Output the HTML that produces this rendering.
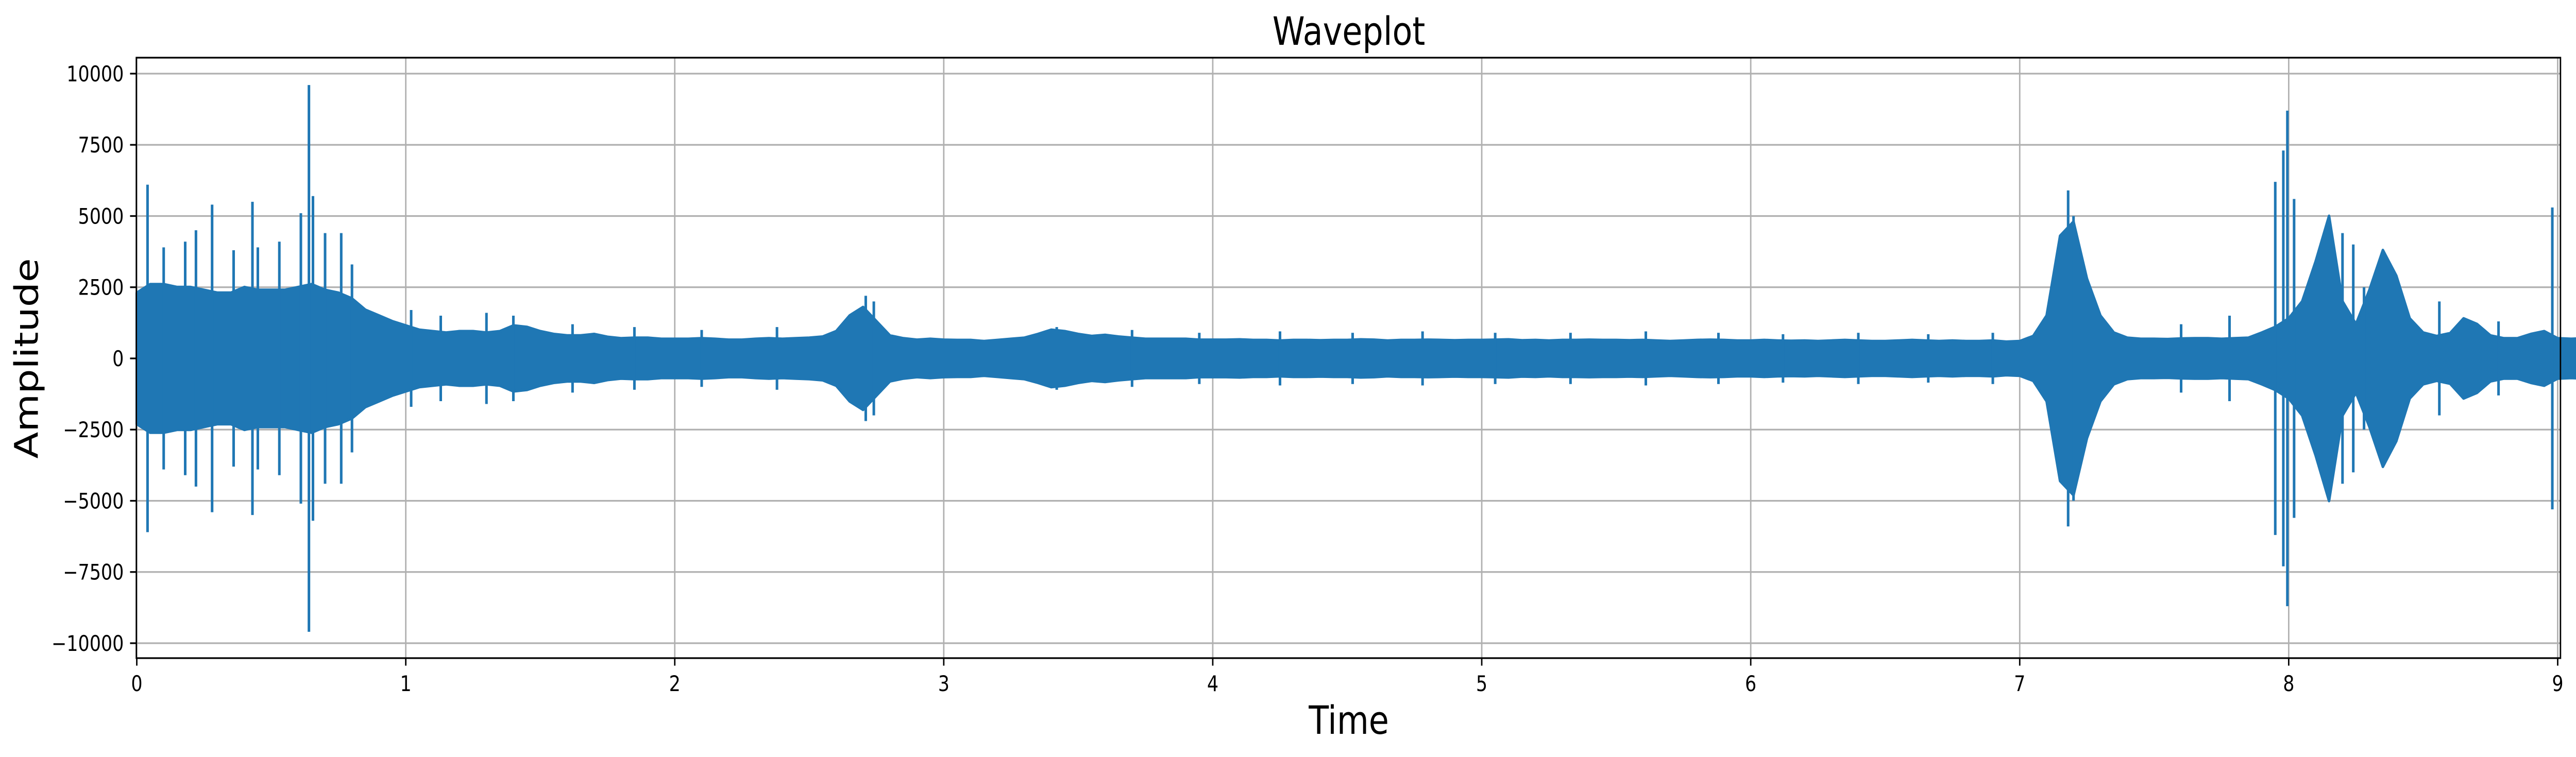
<!DOCTYPE html>
<html><head><meta charset="utf-8"><style>
html,body{margin:0;padding:0;background:#fff;width:100%;height:100%;overflow:hidden;}
svg{display:block;position:fixed;left:0;top:0;width:100vw;height:100vh;}
text{font-family:"DejaVu Sans","Liberation Sans",sans-serif;fill:#000;}
</style></head><body>
<svg id="chart" width="100%" height="100%" viewBox="0 0 5970 1470" preserveAspectRatio="none" xmlns="http://www.w3.org/2000/svg">
<rect x="0" y="0" width="5970" height="1470" fill="#fff"/>
<text x="3126" y="87" font-size="76" text-anchor="middle">Waveplot</text>
<text x="3126" y="1425" font-size="76" text-anchor="middle">Time</text>
<text transform="translate(88,696) rotate(-90)" x="0" y="0" font-size="76" text-anchor="middle">Amplitude</text>
<g id="grid"></g>
<g id="wave"></g>
<g id="axes"></g>
</svg>
<script>
// envelope of dense waveform body, sampled every 0.05 s from 0 to 9.0 s
const envStep = 0.05;
const envelope = [
2300,2600,2600,2500,2500,2400,2300,2300,2500,2400,
2400,2400,2500,2600,2400,2300,2100,1700,1500,1300,
1150,1000,950,900,950,950,900,950,1150,1100,
950,850,800,800,850,750,700,720,720,680,
680,680,700,680,650,650,680,700,680,700,
720,760,950,1500,1800,1300,800,700,650,680,
650,640,640,600,640,680,720,850,1000,950,
850,780,820,760,720,680,680,680,680,650,
650,650,660,640,640,620,640,640,630,640,
640,660,650,620,640,640,650,640,630,640,
640,650,660,630,640,620,640,640,650,640,
640,630,640,620,600,620,640,650,640,620,
620,640,620,610,620,600,620,640,620,600,
600,620,640,620,600,620,600,600,620,580,
600,780,1500,4300,4800,2800,1500,900,720,680,
680,670,690,700,700,680,700,720,900,1100,
1400,2000,3400,5000,2000,1200,2400,3800,2900,1400,
900,780,880,1400,1200,800,700,700,850,950,
700,680,700,850,1800,4200
];
// isolated spikes: time (s) and amplitude
const spikeTimes = [0.04,0.10,0.18,0.22,0.28,0.36,0.43,0.45,0.53,0.61,0.64,0.655,0.70,0.76,0.80,
  1.02,1.13,1.30,1.40,1.62,1.85,2.10,2.38,2.71,2.74,3.42,3.70,3.95,4.25,4.52,4.78,5.05,5.33,5.61,5.88,6.12,6.40,6.66,6.90,
  7.18,7.20,7.60,7.78,7.95,7.98,7.995,8.02,8.20,8.24,8.28,8.56,8.78,8.98];
const spikeAmps  = [6100,3900,4100,4500,5400,3800,5500,3900,4100,5100,9600,5700,4400,4400,3300,
  1700,1500,1600,1500,1200,1100,1000,1100,2200,2000,1100,1000,900,950,900,950,900,900,950,900,850,900,850,900,
  5900,5000,1200,1500,6200,7300,8700,5600,4400,4000,2500,2000,1300,5300];
const yTicks = [-10000,-7500,-5000,-2500,0,2500,5000,7500,10000];
const xTicks = [0,1,2,3,4,5,6,7,8,9];

const NS = "http://www.w3.org/2000/svg";
const L = 316, R = 5934, T = 112, B = 1278;
const X0 = 317, PXS = 623.4;
const Y0 = 696, PXU = 553 / 10000;
function xs(t){ return X0 + t * PXS; }
function ys(v){ return Y0 - v * PXU; }
function mk(tag, attrs, parent){
  const el = document.createElementNS(NS, tag);
  for (const k in attrs) el.setAttribute(k, attrs[k]);
  parent.appendChild(el);
  return el;
}
const grid = document.getElementById('grid');
const wave = document.getElementById('wave');
const axes = document.getElementById('axes');

yTicks.forEach(v => {
  const g = mk('line', {x1:L, x2:R, y1:ys(v), y2:ys(v), stroke:'#b0b0b0', 'stroke-width':3.3}, grid);
  
  
  const tk = mk('line', {x1:L-14.6, x2:L, y1:ys(v), y2:ys(v), stroke:'#000', 'stroke-width':3.3}, axes);
  
  
  const tx = mk('text', {x:L-29, y:ys(v)+15, 'font-size':41.7, 'text-anchor':'end'}, axes);
  tx.textContent = String(v).replace('-', '\u2212');
  
  
});
xTicks.forEach(t => {
  const g = mk('line', {x1:xs(t), x2:xs(t), y1:T, y2:B, stroke:'#b0b0b0', 'stroke-width':3.3}, grid);
  
  
  const tk = mk('line', {x1:xs(t), x2:xs(t), y1:B, y2:B+14.6, stroke:'#000', 'stroke-width':3.3}, axes);
  
  
  const tx = mk('text', {x:xs(t), y:1342, 'font-size':41.7, 'text-anchor':'middle'}, axes);
  tx.textContent = String(t);
  
  
});

// waveform body as filled envelope
let up = [], dn = [];
envelope.forEach((a, i) => {
  const t = i * envStep;
  up.push(xs(t).toFixed(1) + ',' + ys(a).toFixed(1));
  dn.unshift(xs(t).toFixed(1) + ',' + ys(-a).toFixed(1));
});
const body = mk('polygon', {points: up.concat(dn).join(' '), fill:'#1f77b4', stroke:'#1f77b4', 'stroke-width':6, 'stroke-linejoin':'round'}, wave);


spikeTimes.forEach((t, i) => {
  const s = mk('line', {x1:xs(t), x2:xs(t), y1:ys(spikeAmps[i]), y2:ys(-spikeAmps[i]), stroke:'#1f77b4', 'stroke-width':6}, wave);
  
  
});

const frame = mk('rect', {x:L, y:T, width:R-L, height:B-T, fill:'none', stroke:'#000', 'stroke-width':3.3}, axes);


</script>
</body></html>
